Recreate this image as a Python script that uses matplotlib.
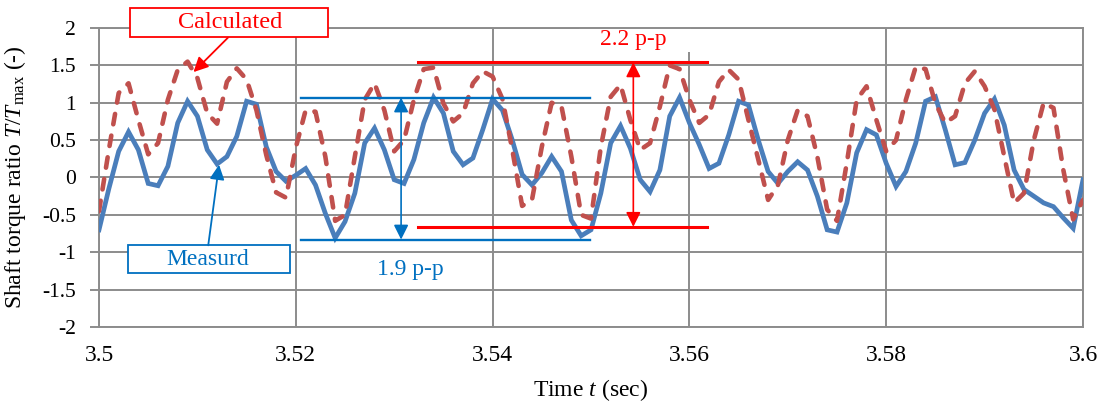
import numpy as np
import matplotlib
matplotlib.use("Agg")
import matplotlib.pyplot as plt
from matplotlib.patches import Rectangle

plt.rcParams["font.family"] = ["Liberation Serif", "DejaVu Serif"]
plt.rcParams["mathtext.fontset"] = "custom"
plt.rcParams["mathtext.rm"] = "Liberation Serif"
plt.rcParams["mathtext.it"] = "Liberation Serif:italic"

# Time axis: 1 ms steps from 3.500 s to 3.600 s
t_start = 3.5
t_step = 0.001

measured = [
    -0.70, -0.15, 0.35, 0.61, 0.37, -0.08, -0.11, 0.15, 0.73, 1.02,
    0.82, 0.37, 0.18, 0.28, 0.55, 1.02, 0.98, 0.41, 0.08, -0.05,
    0.03, 0.12, -0.10, -0.48, -0.81, -0.59, -0.21, 0.46, 0.66, 0.37,
    -0.03, -0.08, 0.24, 0.73, 1.07, 0.86, 0.35, 0.17, 0.26, 0.64,
    1.05, 0.90, 0.50, 0.04, -0.10, 0.06, 0.28, 0.08, -0.57, -0.78,
    -0.70, -0.21, 0.46, 0.69, 0.39, -0.03, -0.19, 0.10, 0.82, 1.07,
    0.73, 0.44, 0.12, 0.19, 0.57, 1.02, 0.97, 0.50, 0.08, -0.08,
    0.08, 0.21, 0.10, -0.25, -0.70, -0.73, -0.34, 0.33, 0.64, 0.57,
    0.19, -0.12, 0.08, 0.46, 1.02, 1.08, 0.64, 0.17, 0.20, 0.50,
    0.86, 1.05, 0.70, 0.10, -0.16, -0.25, -0.34, -0.39, -0.54, -0.68,
    -0.03,
]

calculated = [
    -0.45, 0.37, 1.13, 1.26, 0.77, 0.31, 0.46, 1.04, 1.44, 1.55,
    1.33, 0.86, 0.72, 1.28, 1.46, 1.31, 0.90, 0.30, -0.20, -0.27,
    0.40, 0.90, 0.88, 0.28, -0.58, -0.50, 0.28, 1.04, 1.26, 0.90,
    0.35, 0.50, 1.04, 1.45, 1.47, 0.99, 0.75, 0.86, 1.26, 1.42,
    1.35, 1.05, 0.37, -0.38, -0.30, 0.41, 1.00, 0.95, 0.28, -0.50,
    -0.55, 0.41, 1.08, 1.24, 0.77, 0.37, 0.46, 0.95, 1.50, 1.45,
    1.04, 0.73, 0.84, 1.28, 1.44, 1.31, 0.77, 0.24, -0.30, -0.10,
    0.50, 0.90, 0.82, 0.28, -0.43, -0.58, 0.20, 1.04, 1.22, 0.77,
    0.35, 0.50, 1.04, 1.48, 1.45, 0.99, 0.73, 0.82, 1.26, 1.42,
    1.22, 0.91, 0.28, -0.34, -0.21, 0.50, 1.00, 0.93, 0.10, -0.56,
    -0.30,
]

x_ticks = [3.5, 3.52, 3.54, 3.56, 3.58, 3.6]
x_tick_labels = ["3.5", "3.52", "3.54", "3.56", "3.58", "3.6"]
y_ticks = [-2, -1.5, -1, -0.5, 0, 0.5, 1, 1.5, 2]
y_tick_labels = ["-2", "-1.5", "-1", "-0.5", "0", "0.5", "1", "1.5", "2"]

# Peak-to-peak spans
meas_top, meas_pp = 1.07, 1.9
calc_top, calc_pp = 1.54, 2.2

t = t_start + t_step * np.arange(len(measured))

BLUE = "#4a7ebb"
RED = "#c0504d"
ANN_BLUE = "#0070c0"
ANN_RED = "#ff0000"
GRID = "#8c8c8c"

fig = plt.figure(figsize=(11.05, 4.05), dpi=100)
ax = fig.add_axes([0.0896, 0.1926, 0.8905, 0.7383])

ax.set_xlim(3.5, 3.6)
ax.set_ylim(-2, 2)
ax.set_xticks(x_ticks)
ax.set_xticklabels(x_tick_labels, fontsize=17)
ax.set_yticks(y_ticks)
ax.set_yticklabels(y_tick_labels, fontsize=15.5)
ax.grid(True, color=GRID, linewidth=1.4, zorder=0)
ax.set_axisbelow(True)
for s in ax.spines.values():
    s.set_color(GRID)
    s.set_linewidth(1.4)
ax.tick_params(axis="x", length=0, pad=13)
ax.tick_params(axis="y", length=6.5, width=1.4, color=GRID, pad=10)

ax.plot(t, measured, color=BLUE, linewidth=3.4, zorder=3, solid_joinstyle="miter")
ax.plot(t, calculated, color=RED, linewidth=3.3, zorder=4,
        dashes=(2.3, 2.5), dash_capstyle="round")

ax.set_xlabel("Time $t$ (sec)", fontsize=17, labelpad=8)
ax.set_ylabel("Shaft torque ratio $T$/$T_{\\rm max}$ (-)", fontsize=17)
ax.yaxis.set_label_coords(-0.072, 0.5)

# Measured peak-to-peak span
mx0, mx1 = 3.5205, 3.5499
meas_bot = meas_top - meas_pp
ax.plot([mx0, mx1], [meas_top, meas_top], color=ANN_BLUE, linewidth=1.7, zorder=5)
ax.plot([mx0, mx1], [meas_bot, meas_bot], color=ANN_BLUE, linewidth=1.7, zorder=5)
ax.annotate("", xy=(3.5307, meas_top), xytext=(3.5307, meas_bot),
            arrowprops=dict(arrowstyle="<|-|>", color=ANN_BLUE, lw=1.2,
                            mutation_scale=22, shrinkA=0, shrinkB=0), zorder=5)
ax.text(3.5316, -1.23, f"{meas_pp} p-p", color=ANN_BLUE, fontsize=17,
        ha="center", va="center", zorder=6)

# Calculated peak-to-peak span
cx0, cx1 = 3.5324, 3.5618
calc_bot = calc_top - calc_pp
ax.plot([cx0, cx1], [calc_top, calc_top], color=ANN_RED, linewidth=2.2, zorder=5)
ax.plot([cx0, cx1], [calc_bot, calc_bot], color=ANN_RED, linewidth=2.2, zorder=5)
ax.annotate("", xy=(3.5543, calc_top), xytext=(3.5543, calc_bot),
            arrowprops=dict(arrowstyle="<|-|>", color=ANN_RED, lw=1.2,
                            mutation_scale=22, shrinkA=0, shrinkB=0), zorder=5)
ax.add_patch(Rectangle((3.5488, 1.68), 0.0114, 0.43, facecolor="white",
                       edgecolor="none", zorder=2, clip_on=False))
ax.text(3.5543, 1.84, f"{calc_pp} p-p", color=ANN_RED, fontsize=17,
        ha="center", va="center", zorder=6)

# Series callouts
ax.add_patch(Rectangle((3.5032, 1.88), 0.0201, 0.39, facecolor="white",
                       edgecolor=ANN_RED, linewidth=1.3, zorder=6, clip_on=False))
ax.text(3.5133, 2.08, "Calculated", color=ANN_RED, fontsize=17.5,
        ha="center", va="center", zorder=7, clip_on=False)
ax.annotate("", xy=(3.5096, 1.41), xytext=(3.5131, 1.87),
            arrowprops=dict(arrowstyle="-|>", color=ANN_RED, lw=1.3,
                            mutation_scale=22, shrinkA=0, shrinkB=0), zorder=7)

ax.add_patch(Rectangle((3.5029, -1.28), 0.0165, 0.373, facecolor="white",
                       edgecolor=ANN_BLUE, linewidth=1.3, zorder=6))
ax.text(3.5111, -1.093, "Measurd", color=ANN_BLUE, fontsize=17,
        ha="center", va="center", zorder=7)
ax.annotate("", xy=(3.5122, 0.17), xytext=(3.5111, -0.907),
            arrowprops=dict(arrowstyle="-|>", color=ANN_BLUE, lw=1.3,
                            mutation_scale=22, shrinkA=0, shrinkB=0), zorder=7)

fig.savefig("out.png", dpi=100, facecolor="white")
